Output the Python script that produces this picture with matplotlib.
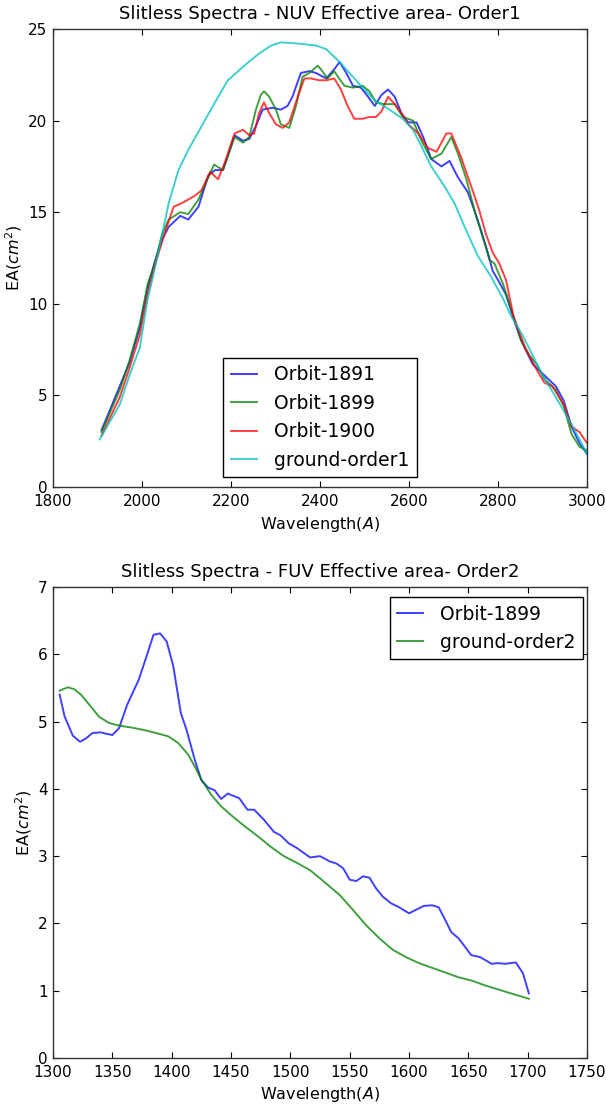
import matplotlib
matplotlib.use('Agg')
import matplotlib.pyplot as plt
from matplotlib.ticker import MultipleLocator

# ---------------- data: NUV order 1 ----------------
wl_1891 = [1909, 1950, 1972, 1995, 2013, 2030, 2045, 2060, 2086, 2104, 2127, 2149, 2164, 2182,
           2208, 2227, 2241, 2256, 2271, 2293, 2312, 2327, 2338, 2357, 2376, 2391, 2414, 2432,
           2444, 2459, 2474, 2492, 2508, 2523, 2538, 2553, 2568, 2583, 2598, 2617, 2632, 2650,
           2673, 2691, 2710, 2732, 2747, 2762, 2777, 2788, 2800, 2818, 2835, 2852, 2878, 2904,
           2930, 2948, 2965, 2983, 3000]
ea_1891 = [3.1, 5.5, 6.8, 8.7, 10.9, 12.4, 13.5, 14.2, 14.8, 14.6, 15.3, 17.0, 17.3, 17.3,
           19.2, 18.9, 19.0, 19.7, 20.6, 20.7, 20.6, 20.8, 21.3, 22.6, 22.7, 22.6, 22.3, 22.8,
           23.2, 22.6, 21.9, 21.8, 21.3, 20.8, 21.4, 21.7, 21.3, 20.4, 19.9, 19.9, 19.1, 17.9,
           17.5, 17.8, 16.9, 16.1, 15.1, 14.0, 12.8, 11.8, 11.3, 10.5, 9.2, 8.0, 6.7, 6.1,
           5.5, 4.7, 3.3, 2.4, 1.8]

wl_1899 = [1909, 1950, 1972, 1995, 2013, 2030, 2045, 2060, 2086, 2104, 2127, 2149, 2162, 2182,
           2208, 2227, 2241, 2256, 2267, 2274, 2286, 2301, 2312, 2331, 2346, 2361, 2376, 2395,
           2402, 2417, 2432, 2440, 2455, 2474, 2496, 2511, 2526, 2544, 2568, 2586, 2609, 2628,
           2650, 2673, 2695, 2710, 2729, 2747, 2770, 2781, 2792, 2811, 2835, 2852, 2870, 2887,
           2904, 2930, 2948, 2965, 2983, 3000]
ea_1899 = [3.0, 5.3, 6.9, 8.9, 11.1, 12.3, 13.8, 14.6, 15.0, 14.9, 15.7, 16.9, 17.6, 17.3,
           19.1, 18.8, 19.1, 20.6, 21.4, 21.6, 21.3, 20.6, 19.8, 19.6, 20.8, 22.4, 22.6, 23.0,
           22.8, 22.3, 22.7, 22.4, 21.9, 21.8, 21.9, 21.6, 21.0, 20.9, 20.9, 20.2, 20.0, 18.9,
           17.9, 18.2, 19.1, 18.2, 16.8, 15.1, 13.3, 12.4, 12.2, 11.1, 9.3, 8.0, 7.2, 6.7,
           5.9, 5.3, 4.4, 2.9, 2.2, 2.0]

wl_1900 = [1909, 1950, 1972, 1995, 2013, 2030, 2053, 2071, 2090, 2119, 2134, 2153, 2171, 2186,
           2208, 2227, 2241, 2252, 2263, 2274, 2286, 2301, 2316, 2331, 2350, 2365, 2380, 2398,
           2414, 2432, 2447, 2462, 2477, 2496, 2511, 2526, 2538, 2553, 2568, 2583, 2598, 2621,
           2643, 2662, 2684, 2695, 2717, 2740, 2758, 2773, 2788, 2803, 2818, 2835, 2861, 2887,
           2904, 2922, 2948, 2965, 2983, 3000]
ea_1900 = [2.8, 4.9, 6.5, 8.3, 10.6, 12.2, 14.0, 15.3, 15.5, 15.9, 16.2, 17.2, 16.8, 17.7,
           19.3, 19.5, 19.2, 19.3, 20.4, 21.0, 20.4, 19.8, 19.6, 19.9, 21.3, 22.3, 22.3, 22.2,
           22.2, 22.3, 21.7, 20.8, 20.1, 20.1, 20.2, 20.2, 20.5, 21.3, 20.9, 20.4, 19.8, 19.3,
           18.5, 18.3, 19.3, 19.3, 18.0, 16.4, 15.1, 13.8, 12.8, 12.2, 11.3, 9.3, 7.6, 6.4,
           5.7, 5.5, 4.5, 3.3, 3.0, 2.4]

wl_ground1 = [1905, 1950, 1972, 1995, 2013, 2023, 2041, 2060, 2082, 2104, 2134, 2164, 2193,
              2230, 2260, 2290, 2312, 2353, 2391, 2414, 2444, 2466, 2496, 2523, 2556, 2586,
              2609, 2628, 2650, 2680, 2702, 2725, 2755, 2784, 2811, 2830, 2855, 2898, 2942,
              2968, 3000]
ea_ground1 = [2.6, 4.5, 6.1, 7.6, 10.3, 11.3, 13.3, 15.5, 17.3, 18.4, 19.7, 21.0, 22.2,
              23.0, 23.6, 24.1, 24.27, 24.2, 24.1, 23.9, 23.2, 22.6, 21.8, 21.1, 20.6, 20.1,
              19.5, 18.6, 17.5, 16.4, 15.5, 14.2, 12.6, 11.5, 10.3, 9.3, 8.3, 6.2, 4.4,
              3.3, 1.8]

# ---------------- data: FUV order 2 ----------------
wl_o2_1899 = [1305.6, 1309.7, 1316.7, 1322.8, 1327.8, 1333.3, 1340.3, 1344.5, 1350, 1355.6,
              1362.5, 1372.2, 1379.2, 1384.7, 1390.3, 1395.8, 1401.4, 1407.8, 1412.5, 1419.5,
              1425, 1430.6, 1436.1, 1441.7, 1447.3, 1457, 1463.9, 1469.5, 1477.8, 1486.2,
              1491.7, 1498.7, 1505.6, 1511.1, 1516.7, 1525, 1533.4, 1538.9, 1544.5, 1550,
              1555.6, 1561.2, 1566.7, 1572.3, 1577.8, 1584.8, 1591.7, 1600, 1605.6, 1612.5,
              1619.5, 1625, 1630.6, 1635.6, 1641.7, 1647.3, 1652.3, 1659.8, 1663.9, 1669.5,
              1675, 1681, 1690, 1696, 1701]
ea_o2_1899 = [5.40, 5.08, 4.79, 4.70, 4.75, 4.83, 4.84, 4.82, 4.80, 4.90,
              5.25, 5.62, 5.99, 6.29, 6.31, 6.19, 5.82, 5.12, 4.88, 4.43,
              4.13, 4.02, 3.98, 3.85, 3.93, 3.86, 3.69, 3.69, 3.54, 3.36,
              3.31, 3.19, 3.12, 3.05, 2.98, 3.00, 2.92, 2.89, 2.82, 2.65,
              2.63, 2.70, 2.68, 2.52, 2.40, 2.30, 2.24, 2.15, 2.20, 2.26,
              2.27, 2.24, 2.05, 1.87, 1.78, 1.65, 1.53, 1.50, 1.46, 1.40,
              1.41, 1.40, 1.42, 1.26, 0.96]

wl_ground2 = [1305.6, 1312.5, 1318, 1323.6, 1330.6, 1338.9, 1347.2, 1355.6, 1366.7, 1377.8,
              1388.9, 1397.2, 1405.6, 1413.9, 1419.5, 1425, 1433.4, 1441.7, 1451.4, 1461.1,
              1472.3, 1483.4, 1494.5, 1505.6, 1516.7, 1526.4, 1541.7, 1552.8, 1564, 1575,
              1586.2, 1597.3, 1608.4, 1619.5, 1630.6, 1641.7, 1652.8, 1663.9, 1675, 1686,
              1701]
ea_ground2 = [5.46, 5.51, 5.48, 5.40, 5.25, 5.07, 4.98, 4.94, 4.91, 4.87,
              4.82, 4.78, 4.68, 4.51, 4.33, 4.14, 3.91, 3.74, 3.59, 3.45,
              3.30, 3.14, 3.00, 2.90, 2.79, 2.65, 2.42, 2.20, 1.97, 1.78,
              1.61, 1.50, 1.41, 1.34, 1.27, 1.20, 1.15, 1.08, 1.02, 0.96,
              0.88]

FONT = ['Liberation Sans Narrow', 'DejaVu Sans']
plt.rcParams['font.family'] = FONT
plt.rcParams['mathtext.fontset'] = 'custom'
plt.rcParams['mathtext.rm'] = 'Liberation Sans Narrow'
plt.rcParams['mathtext.it'] = 'Liberation Sans Narrow:italic'

fig = plt.figure(figsize=(6.06, 11.09), dpi=100, facecolor='white')

W, H = 606.0, 1109.0
L, R = 53.0, 587.0
ax1 = fig.add_axes([L / W, 1 - 487 / H, (R - L) / W, (487 - 29) / H])
ax2 = fig.add_axes([L / W, 1 - 1058 / H, (R - L) / W, (1058 - 587) / H])

lw = 1.4
al = 0.75
ax1.plot(wl_1891, ea_1891, color='b', lw=lw, alpha=al, label='Orbit-1891')
ax1.plot(wl_1899, ea_1899, color='g', lw=lw, alpha=al, label='Orbit-1899')
ax1.plot(wl_1900, ea_1900, color='r', lw=lw, alpha=al, label='Orbit-1900')
ax1.plot(wl_ground1, ea_ground1, color='c', lw=lw, alpha=al, label='ground-order1')
ax1.set_xlim(1800, 3000)
ax1.set_ylim(0, 25)
ax1.xaxis.set_major_locator(MultipleLocator(200))
ax1.yaxis.set_major_locator(MultipleLocator(5))
ax1.set_title('Slitless Spectra - NUV Effective area- Order1', fontsize=13, pad=7)
ax1.set_xlabel('Wavelength($A$)', fontsize=11.5, labelpad=4)
ax1.set_ylabel('EA($cm^2$)', fontsize=11.5, labelpad=3)
ax1.legend(loc='lower center', bbox_to_anchor=(0.5, 10 / 458.0), borderaxespad=0,
           fontsize=13.5, fancybox=False, edgecolor='black', handlelength=1.4,
           handletextpad=0.9, labelspacing=0.5, framealpha=1)

ax2.plot(wl_o2_1899, ea_o2_1899, color='b', lw=lw, alpha=al, label='Orbit-1899')
ax2.plot(wl_ground2, ea_ground2, color='g', lw=lw, alpha=al, label='ground-order2')
ax2.set_xlim(1300, 1750)
ax2.set_ylim(0, 7)
ax2.xaxis.set_major_locator(MultipleLocator(50))
ax2.yaxis.set_major_locator(MultipleLocator(1))
ax2.set_title('Slitless Spectra - FUV Effective area- Order2', fontsize=13, pad=7)
ax2.set_xlabel('Wavelength($A$)', fontsize=11.5, labelpad=4)
ax2.set_ylabel('EA($cm^2$)', fontsize=11.5, labelpad=3)
ax2.legend(loc='upper right', bbox_to_anchor=(1 - 4 / (R - L), 1 - 10 / 471.0),
           borderaxespad=0, fontsize=13.5, fancybox=False, edgecolor='black',
           handlelength=1.4, handletextpad=0.9, labelspacing=0.5, framealpha=1)

for ax in (ax1, ax2):
    ax.tick_params(direction='in', top=True, right=True, length=4, width=0.8,
                   labelsize=11, colors='black')
    ax.tick_params(axis='x', pad=5)
    ax.tick_params(axis='y', pad=4)
    for s in ax.spines.values():
        s.set_linewidth(1.0)
        s.set_color('#333333')
    ax.legend_.get_frame().set_linewidth(1.0)

fig.savefig('out.png', dpi=100, facecolor='white')
